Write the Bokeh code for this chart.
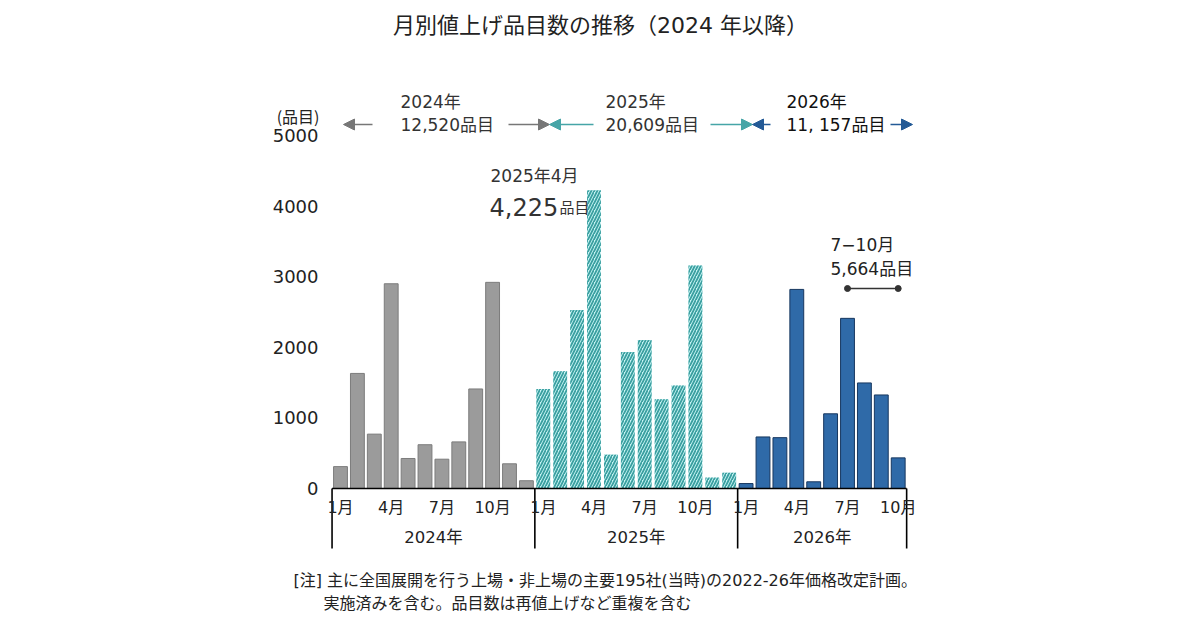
from bokeh.plotting import figure
from bokeh.models import (Range1d, FixedTicker, Label, Arrow, NormalHead)
from bokeh.embed import file_html
from bokeh.resources import INLINE

# ---- data -------------------------------------------------------------
years = ["2024年", "2025年", "2026年"]
months_2024 = list(range(1, 13))
months_2025 = list(range(1, 13))
months_2026 = list(range(1, 11))
items_2024 = [310, 1630, 770, 2900, 425, 620, 415, 660, 1410, 2920, 350, 110]
items_2025 = [1410, 1660, 2530, 4225, 480, 1935, 2105, 1265, 1460, 3160, 155, 224]
items_2026 = [70, 730, 720, 2820, 95, 1058, 2410, 1495, 1325, 434]
month_ticks = [1, 4, 7, 10]
y_ticks = [0, 1000, 2000, 3000, 4000, 5000]

JP = "Noto Sans CJK JP"
NUM = "DejaVu Sans, Noto Sans CJK JP"   # wide digits, CJK falls back
INK = "#222222"

# ---- pixel layout -> data helpers -------------------------------------
PX0, STEP = 340.0, 16.9        # centre of the first bar, bar pitch (px)
PY0, K = 488.0, 0.0706         # baseline pixel, px per item
W_PX, H_PX = 1200, 630


def dx(px):
    return (px - PX0) / STEP


def dy(py):
    return (PY0 - py) / K


# bar index of each month across the three years
x24 = [m - 1 for m in months_2024]
x25 = [12 + m - 1 for m in months_2025]
x26 = [24 + m - 1 for m in months_2026]

p = figure(width=W_PX, height=H_PX, output_backend="svg", toolbar_location=None,
           x_range=Range1d(dx(0), dx(W_PX)), y_range=Range1d(dy(H_PX), dy(0)),
           min_border=0, min_border_left=0, min_border_right=0,
           min_border_top=0, min_border_bottom=0, outline_line_color=None)
p.xaxis.visible = False
p.xgrid.visible = False
p.ygrid.visible = False
p.background_fill_color = "white"
p.border_fill_color = "white"

ax = p.yaxis[0]
ax.fixed_location = dx(323)
ax.ticker = FixedTicker(ticks=y_ticks)
ax.axis_line_color = None
ax.major_tick_line_color = None
ax.minor_tick_line_color = None
ax.major_tick_out = 0
ax.major_label_standoff = 5
ax.major_label_text_font = NUM
ax.major_label_text_font_size = "18px"
ax.major_label_text_color = INK

W = 0.82
p.vbar(x=x24, top=items_2024, width=W, fill_color="#9b9b9b",
       line_color="#7c7c7c", line_width=1)
p.vbar(x=x25, top=items_2025, width=W, fill_color="#c6f4f4",
       line_color=None, hatch_pattern="/", hatch_color="#3a9fa0",
       hatch_scale=6, hatch_weight=1.8)
p.vbar(x=x26, top=items_2026, width=W, fill_color="#2f6aa8",
       line_color="#17375f", line_width=1)

# ---- category axis drawn underneath -------------------------------------
bounds = [-0.5, 11.5, 23.5, 23.5 + len(months_2026)]
p.segment(x0=[bounds[0]], y0=[0], x1=[bounds[-1]], y1=[0],
          line_color="black", line_width=1.6)
p.segment(x0=bounds, y0=[0] * 4, x1=bounds, y1=[dy(548)] * 4,
          line_color="black", line_width=1.6)

mx, ml = [], []
for off, months in ((0, months_2024), (12, months_2025), (24, months_2026)):
    for m in month_ticks:
        if m in months:
            mx.append(off + m - 1)
            ml.append(f"{m}月")
p.text(x=mx, y=[dy(507)] * len(mx), text=ml, text_align="center",
       text_baseline="middle", text_font={"value": NUM},
       text_font_size="16px", text_color=INK)
yc = [(bounds[i] + bounds[i + 1]) / 2 for i in range(3)]
p.text(x=yc, y=[dy(537)] * 3, text=years, text_align="center",
       text_baseline="middle", text_font={"value": NUM},
       text_font_size="16.5px", text_color=INK)


def label(text, px, py, size, color=INK, align="left", baseline="middle",
          font=NUM):
    p.add_layout(Label(x=dx(px), y=dy(py), text=text, text_font=font,
                       text_font_size=size, text_color=color,
                       text_align=align, text_baseline=baseline))


# title
label("月別値上げ品目数の推移（2024 年以降）", 600, 25, "22px", align="center")
label("(品目)", 319, 115, "16px", align="right", font=JP)

# yearly totals with arrows
totals = [sum(items_2024), sum(items_2025), sum(items_2026)]
tot_text = [f"{totals[0]:,}品目", f"{totals[1]:,}品目",
            f"{totals[2]:,}品目".replace(",", ", ")]
colors = ["#777777", "#46a5a7", "#235a96"]
text_x = [400, 605, 786]
text_col = ["#333333", "#333333", "#111111"]
arrows = [((372, 343), (508, 549)), ((593, 549), (710, 752)),
          ((770, 752), (890, 912))]
AY = 124
for yr, tt, c, tx, tc, arr in zip(years, tot_text, colors, text_x, text_col, arrows):
    label(yr, tx, 101, "17px", color=tc)
    label(tt, tx, AY, "17px", color=tc)
    for (s, e) in arr:
        p.add_layout(Arrow(x_start=dx(s), y_start=dy(AY), x_end=dx(e),
                           y_end=dy(AY), line_color=c, line_width=1.3,
                           end=NormalHead(size=11, fill_color=c,
                                          line_color=c)))

# peak month callout
peak = items_2025[3]
label("2025年4月", 490, 175, "17px", color="#333333")
label(f"{peak:,}", 489, 206, "24px", color="#333333", baseline="alphabetic")
label("品目", 559, 206, "15px", color="#333333", baseline="alphabetic", font=JP)

# Jul-Oct 2026 bracket
jul_oct = sum(items_2026[6:10])
label("7−10月", 830, 244, "17px", color=INK)
label(f"{jul_oct:,}品目", 830, 268, "17px", color=INK)
p.segment(x0=[x26[6]], y0=[dy(288)], x1=[x26[9]], y1=[dy(288)],
          line_color="#333333", line_width=1.3)
p.scatter(x=[x26[6], x26[9]], y=[dy(288)] * 2, size=6, color="#333333")

# note
label("[注] 主に全国展開を行う上場・非上場の主要195社(当時)の2022-26年価格改定計画。",
      293, 580, "16px")
label("実施済みを含む。品目数は再値上げなど重複を含む", 323, 601, "16px", font=JP)

open("out.html", "w").write(file_html(p, INLINE))
